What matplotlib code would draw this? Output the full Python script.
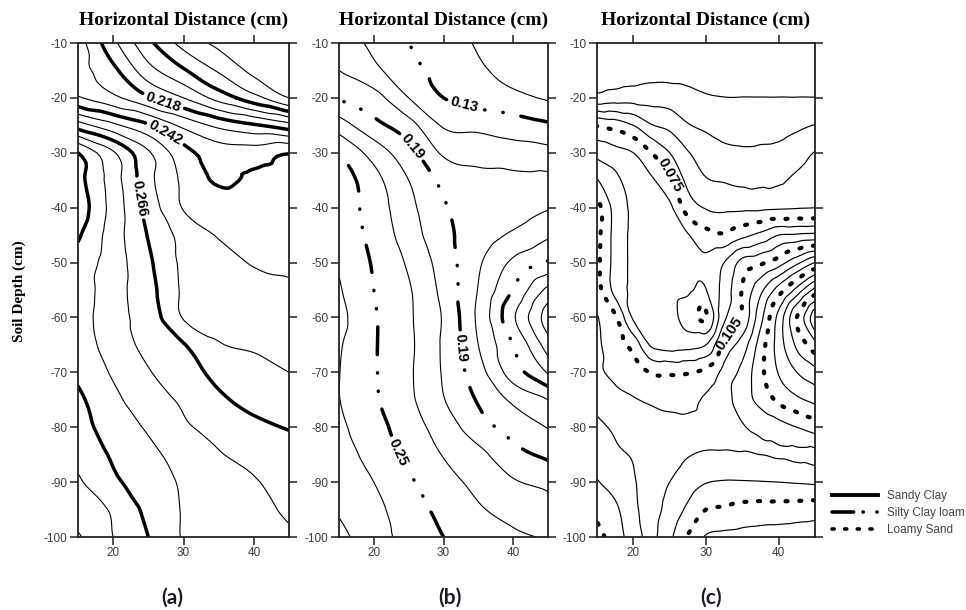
import numpy as np
import matplotlib.pyplot as plt
import matplotlib.tri as mtri
from matplotlib.lines import Line2D

plt.rcParams['font.family'] = ['Liberation Sans', 'DejaVu Sans']
plt.rcParams['axes.unicode_minus'] = False

# soil depth rows (cm) and horizontal distance columns (cm)
depth = np.arange(-10, -101, -5)
x_ab = [15, 20, 25, 30, 35, 40, 45]
x_c = [15, 17.5, 20, 22.5, 25, 27.5, 30, 32.5, 35, 37.5, 40, 42.5, 45]

# (a) Sandy Clay - water content, one row per depth
theta_a = [
    [0.229, 0.212, 0.196, 0.183, 0.176, 0.173, 0.171],
    [0.229, 0.220, 0.205, 0.195, 0.185, 0.176, 0.172],
    [0.235, 0.228, 0.219, 0.210, 0.199, 0.189, 0.178],
    [0.262, 0.252, 0.243, 0.232, 0.224, 0.219, 0.213],
    [0.290, 0.275, 0.259, 0.245, 0.238, 0.2378, 0.2415],
    [0.293, 0.278, 0.2605, 0.2485, 0.2408, 0.2435, 0.2455],
    [0.295, 0.279, 0.263, 0.2495, 0.247, 0.2465, 0.2465],
    [0.291, 0.278, 0.2655, 0.2555, 0.2495, 0.248, 0.247],
    [0.287, 0.278, 0.2675, 0.2565, 0.253, 0.2495, 0.249],
    [0.287, 0.277, 0.269, 0.257, 0.255, 0.253, 0.251],
    [0.286, 0.277, 0.2705, 0.2575, 0.256, 0.255, 0.254],
    [0.287, 0.278, 0.272, 0.2665, 0.2585, 0.257, 0.256],
    [0.2885, 0.281, 0.2745, 0.270, 0.2635, 0.261, 0.258],
    [0.2915, 0.284, 0.277, 0.273, 0.2675, 0.2635, 0.262],
    [0.293, 0.2865, 0.281, 0.275, 0.272, 0.268, 0.2655],
    [0.296, 0.289, 0.284, 0.279, 0.2745, 0.272, 0.270],
    [0.299, 0.2915, 0.2865, 0.281, 0.278, 0.2745, 0.272],
    [0.302, 0.297, 0.288, 0.2815, 0.278, 0.276, 0.273],
    [0.307, 0.298, 0.290, 0.2815, 0.279, 0.277, 0.275],
]

# (b) Silty Clay loam
theta_b = [
    [0.162, 0.145, 0.130, 0.120, 0.108, 0.102, 0.098],
    [0.170, 0.155, 0.136, 0.125, 0.113, 0.104, 0.099],
    [0.189, 0.178, 0.150, 0.130, 0.122, 0.115, 0.108],
    [0.220, 0.196, 0.178, 0.148, 0.145, 0.140, 0.133],
    [0.249, 0.222, 0.197, 0.167, 0.162, 0.158, 0.156],
    [0.262, 0.237, 0.210, 0.185, 0.176, 0.175, 0.174],
    [0.262, 0.241, 0.216, 0.192, 0.183, 0.179, 0.171],
    [0.264, 0.244, 0.220, 0.196, 0.180, 0.167, 0.153],
    [0.268, 0.248, 0.227, 0.201, 0.173, 0.146, 0.128],
    [0.272, 0.250, 0.232, 0.204, 0.169, 0.129, 0.085],
    [0.276, 0.252, 0.233, 0.208, 0.166, 0.113, 0.060],
    [0.272, 0.252, 0.234, 0.207, 0.170, 0.130, 0.080],
    [0.2705, 0.252, 0.233, 0.208, 0.178, 0.140, 0.108],
    [0.2705, 0.253, 0.234, 0.211, 0.188, 0.166, 0.150],
    [0.274, 0.258, 0.239, 0.221, 0.198, 0.183, 0.169],
    [0.280, 0.262, 0.245, 0.229, 0.216, 0.196, 0.186],
    [0.283, 0.270, 0.253, 0.237, 0.225, 0.212, 0.206],
    [0.288, 0.276, 0.258, 0.245, 0.232, 0.224, 0.216],
    [0.296, 0.278, 0.263, 0.250, 0.240, 0.233, 0.228],
]

# (c) Loamy Sand
theta_c = [
    [0.036, 0.036, 0.037, 0.037, 0.037, 0.037, 0.036, 0.035, 0.035, 0.035, 0.035, 0.035, 0.035],
    [0.039, 0.040, 0.041, 0.042, 0.042, 0.041, 0.039, 0.038, 0.038, 0.038, 0.038, 0.038, 0.038],
    [0.0475, 0.049, 0.0495, 0.0495, 0.049, 0.048, 0.046, 0.0452, 0.0452, 0.0452, 0.0452, 0.0452, 0.0452],
    [0.0745, 0.072, 0.0675, 0.0605, 0.058, 0.053, 0.051, 0.049, 0.048, 0.049, 0.0495, 0.051, 0.0527],
    [0.0875, 0.085, 0.0825, 0.075, 0.0675, 0.0605, 0.057, 0.0545, 0.0538, 0.054, 0.0545, 0.057, 0.0603],
    [0.098, 0.092, 0.086, 0.0835, 0.0765, 0.0655, 0.0605, 0.0595, 0.0585, 0.0585, 0.059, 0.0615, 0.064],
    [0.108, 0.095, 0.0885, 0.0865, 0.084, 0.0715, 0.067, 0.066, 0.066, 0.066, 0.0665, 0.067, 0.0675],
    [0.1075, 0.095, 0.0885, 0.087, 0.086, 0.083, 0.0775, 0.076, 0.0805, 0.0845, 0.090, 0.091, 0.092],
    [0.107, 0.095, 0.0885, 0.087, 0.086, 0.085, 0.084, 0.090, 0.100, 0.1035, 0.109, 0.118, 0.1275],
    [0.108, 0.095, 0.0885, 0.0865, 0.085, 0.0835, 0.0823, 0.093, 0.1055, 0.118, 0.131, 0.145, 0.160],
    [0.113, 0.106, 0.089, 0.0865, 0.085, 0.0795, 0.0745, 0.096, 0.106, 0.125, 0.145, 0.165, 0.185],
    [0.114, 0.1075, 0.1025, 0.089, 0.087, 0.0875, 0.090, 0.107, 0.116, 0.131, 0.146, 0.159, 0.170],
    [0.1135, 0.111, 0.108, 0.1045, 0.104, 0.1045, 0.107, 0.115, 0.122, 0.133, 0.143, 0.150, 0.155],
    [0.1175, 0.1145, 0.113, 0.1115, 0.1105, 0.1105, 0.1135, 0.117, 0.124, 0.130, 0.1365, 0.141, 0.1445],
    [0.1215, 0.119, 0.1165, 0.115, 0.1145, 0.1145, 0.115, 0.1165, 0.1195, 0.1215, 0.1245, 0.1275, 0.131],
    [0.124, 0.121, 0.1195, 0.1165, 0.117, 0.1195, 0.121, 0.121, 0.1205, 0.120, 0.1195, 0.119, 0.1185],
    [0.128, 0.1245, 0.1205, 0.118, 0.120, 0.124, 0.1272, 0.128, 0.128, 0.1278, 0.1275, 0.127, 0.1265],
    [0.133, 0.129, 0.1215, 0.118, 0.1225, 0.129, 0.135, 0.136, 0.1375, 0.138, 0.138, 0.1385, 0.139],
    [0.1375, 0.1315, 0.1235, 0.1185, 0.126, 0.1355, 0.1432, 0.1445, 0.145, 0.1455, 0.146, 0.1465, 0.147],
]

lev_a = np.round(0.178 + 0.008 * np.arange(17), 3)
lev_b = np.round(0.07 + 0.02 * np.arange(12), 2)
lev_c = np.round(0.045 + 0.0075 * np.arange(20), 4)
major_a = [0.194, 0.218, 0.242, 0.266, 0.290]
major_b = [0.13, 0.19, 0.25]
major_c = [0.075, 0.105, 0.135, 0.165]
# labelled levels and where their labels sit (x, depth)
lab_a = [0.218, 0.242, 0.266]
pos_a = [(26.9, -21.7), (26.5, -28.3), (23.6, -38.3)]
lab_b = [0.13, 0.19, 0.25]
pos_b = [(33, -21), (24.9, -29.5), (32.3, -65.6), (23.2, -84.7)]
lab_c = [0.075, 0.105]
pos_c = [(24.4, -34.6), (33.3, -62.9)]

DASHDOT = (0, (8, 5.2, 0.1, 5.2, 0.1, 5.2))
DOTS = (0, (0.5, 2.8))


def smooth_field(xs, vals):
    X, Y = np.meshgrid(xs, depth)
    ny, nx = X.shape
    idx = np.arange(ny * nx).reshape(ny, nx)
    p, q = idx[:-1, :-1].ravel(), idx[:-1, 1:].ravel()
    r, s = idx[1:, :-1].ravel(), idx[1:, 1:].ravel()
    cells = np.vstack([np.column_stack([p, q, s]), np.column_stack([p, s, r])])
    tri = mtri.Triangulation(X.ravel(), Y.ravel(), cells)
    z = np.asarray(vals, float).ravel()
    interp = mtri.CubicTriInterpolator(tri, z, kind='geom')
    return mtri.UniformTriRefiner(tri).refine_field(z, triinterpolator=interp, subdiv=3)


def frame(ax):
    ax.set_xlim(15, 45)
    ax.set_ylim(-100, -10)
    ax.set_xticks([20, 30, 40])
    ax.set_yticks(np.arange(-100, -9, 10))
    ax.tick_params(direction='out', length=5.5, width=1.1, top=True, right=True,
                   labelsize=8.5, labelcolor='#3a3a3a', color='#222222', pad=2)
    for s in ax.spines.values():
        s.set_linewidth(1.3)
        s.set_color('#222222')


def draw(ax, xs, vals, levels, major, labelled, label_pos, fmt,
         thick_style, thick_lw, thin_lw):
    t, z = smooth_field(xs, vals)
    rest = [l for l in levels if not np.any(np.isclose(l, labelled))]
    is_major = [np.any(np.isclose(l, major)) for l in rest]
    ls = [thick_style if m else 'solid' for m in is_major]
    lw = [thick_lw if m else thin_lw for m in is_major]
    cs = ax.tricontour(t, z, levels=rest, colors='k', linewidths=lw, linestyles=ls)
    cs.set_capstyle('round')
    cl = ax.tricontour(t, z, levels=labelled, colors='k', linewidths=thick_lw,
                       linestyles=[thick_style] * len(labelled))
    cl.set_capstyle('round')
    with plt.rc_context({'font.weight': 'bold'}):
        ax.clabel(cl, manual=label_pos, fmt=fmt, fontsize=10.5, inline=True,
                  inline_spacing=4)


fig = plt.figure(figsize=(9.66, 6.10), dpi=100)
H = 494 / 610
B = 1 - 537 / 610
ax_a = fig.add_axes([78 / 966, B, 211 / 966, H])
ax_b = fig.add_axes([339 / 966, B, 209 / 966, H])
ax_c = fig.add_axes([597 / 966, B, 218 / 966, H])

draw(ax_a, x_ab, theta_a, lev_a, major_a, lab_a, pos_a, '%.3f', 'solid', 2.5, 0.8)
draw(ax_b, x_ab, theta_b, lev_b, major_b, lab_b, pos_b, '%.2f', DASHDOT, 2.5, 0.8)
draw(ax_c, x_c, theta_c, lev_c, major_c, lab_c, pos_c, '%.3f', DOTS, 3.0, 0.85)

for ax in (ax_a, ax_b, ax_c):
    frame(ax)
    pos = ax.get_position()
    fig.text(pos.x0 + pos.width / 2, 1 - 20 / 610, 'Horizontal Distance (cm)',
             ha='center', va='center', fontsize=14, fontweight='bold',
             family='Liberation Serif')

fig.text(19 / 966, 1 - 291 / 610, 'Soil Depth (cm)', rotation=90, ha='center',
         va='center', fontsize=11, fontweight='bold', family='Liberation Serif')

for lab, xc in zip(['(a)', '(b)', '(c)'], [172, 450, 711]):
    fig.text(xc / 966, 1 - 598 / 610, lab, ha='center', va='center',
             fontsize=15, fontweight='bold', family='Lato', color='#1a1a2a')

handles = [
    Line2D([], [], color='k', lw=2.8),
    Line2D([], [], color='k', lw=2.6, linestyle=(0, (6, 2.6, 0.05, 3.8, 0.05, 10)),
           dash_capstyle='round'),
    Line2D([], [], color='k', lw=2.6, linestyle=(0, (0.6, 2.9)), dash_capstyle='round'),
]
fig.legend(handles, ['Sandy Clay', 'Silty Clay loam', 'Loamy Sand'],
           loc='upper left', bbox_to_anchor=(0.861, 0.197), frameon=False,
           fontsize=8.5, handlelength=3.9, handletextpad=0.8, labelspacing=0.45,
           borderaxespad=0, borderpad=0, labelcolor='#444444')

fig.savefig('out.png', dpi=100)
